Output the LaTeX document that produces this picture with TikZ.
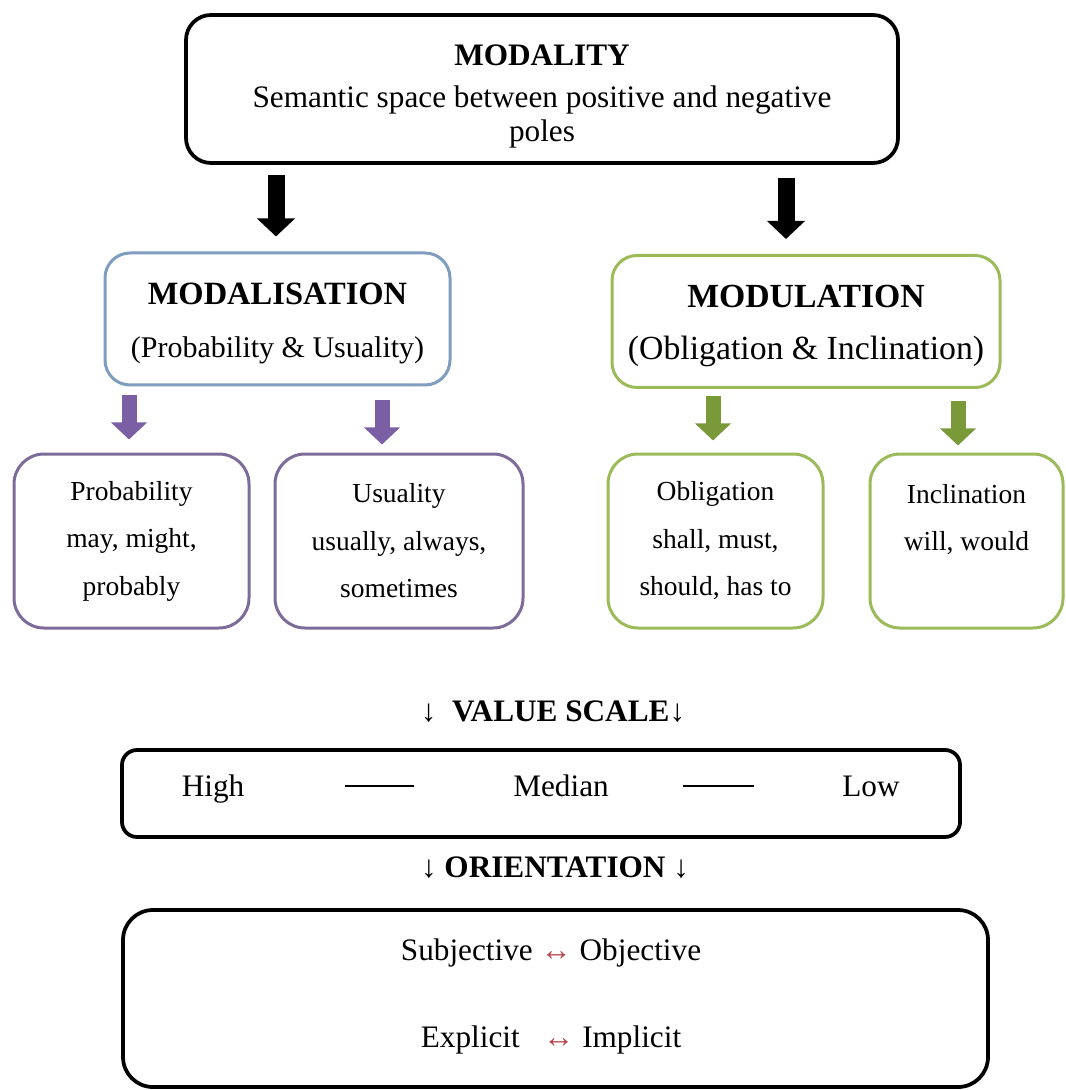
\documentclass[tikz,border=0pt]{standalone}
\usepackage{fontspec}
\setmainfont{Liberation Serif}
\usetikzlibrary{arrows.meta}
\newcommand{\pix}{0.4pt}
\definecolor{boxblue}{HTML}{7F9DBF}
\definecolor{boxgreen}{HTML}{9BBB59}
\definecolor{boxpurple}{HTML}{7D6B9A}
\definecolor{arrpurple}{HTML}{7B5FA4}
\definecolor{arrgreen}{HTML}{7A9A3A}
\definecolor{arrred}{HTML}{B5474C}
\begin{document}
\begin{tikzpicture}[x=0.4pt, y=-0.4pt,
  bigbox/.style={draw, line width=1.5pt, rounded corners=10pt, align=center, font=\fontsize{12.5}{13.5}\selectfont},
  midbox/.style={line width=1.2pt, rounded corners=10pt, align=center, minimum height=132*\pix},
  smallbox/.style={line width=1.2pt, rounded corners=12pt, align=center, minimum height=174*\pix, font=\fontsize{11}{19}\selectfont},
  scaletext/.style={inner sep=0pt, text height=10pt, text depth=1.5pt, font=\fontsize{12.5}{14}\selectfont},
  bigarrow/.style={line width=6.8pt, {Triangle[width=14.8pt,length=7.2pt]}-},
  smallarrow/.style={line width=6pt, {Triangle[width=14pt,length=6.8pt]}-}]
\useasboundingbox (0,0) rectangle (1065,1090);

\node[bigbox, minimum width=712*\pix, minimum height=148*\pix] (Top) at (542,89)
  {\rule{0pt}{14pt}\textbf{MODALITY}\\[3.5pt]Semantic space between positive and negative\\poles};

\node[midbox, draw=boxblue, minimum width=345*\pix, font=\fontsize{13}{14}\selectfont] (Left) at (277.5,319)
  {\rule{0pt}{12pt}\textbf{MODALISATION}\\[7pt]{\fontsize{12}{14}\selectfont(Probability \& Usuality)}};
\node[midbox, draw=boxgreen, minimum width=388*\pix, font=\fontsize{13.5}{14}\selectfont] (Right) at (806,321.5)
  {\rule{0pt}{12.5pt}\textbf{MODULATION}\\[7pt](Obligation \& Inclination)};

\foreach \c/\i/\x/\w [count=\n] in
    {boxpurple/{Probability\\may, might,\\probably}/131.5/235,
     boxpurple/{Usuality\\usually, always,\\sometimes}/399/248,
     boxgreen/{Obligation\\shall, must,\\should, has to}/715.5/215,
     boxgreen/{Inclination\\will, would\\~}/966.5/193}
  \node[smallbox, draw=\c, minimum width=\w*\pix] (S\n) at (\x,541) {\i};

\foreach \n/\dx/\dy in {Left/-1.5/15, Right/-20/15}
  \draw[bigarrow] ([xshift=\dx*\pix, yshift=\dy*\pix]\n.north) -- ++(0,-61);
\foreach \n/\dx/\dy/\c in {S1/-2.5/13/arrpurple, S2/-17/8/arrpurple, S3/-2.5/12/arrgreen, S4/-8.5/7/arrgreen}
  \draw[smallarrow, draw=\c] ([xshift=\dx*\pix, yshift=\dy*\pix]\n.north) -- ++(0,-44);

\node[font=\fontsize{12.5}{14}\selectfont] (ValueTitle) at (553,712) {↓\ \ \textbf{VALUE SCALE}↓};
\node[draw, line width=1.5pt, rounded corners=6pt, minimum width=838*\pix, minimum height=87*\pix] (Value) at (541,793.5) {};
\node[scaletext] (High) at (213,786) {High};
\node[scaletext] (Median) at (561,786) {Median};
\node[scaletext] (Low) at (871,786) {Low};
\draw[line width=0.8pt, shorten <=40pt, shorten >=39.5pt] (High) -- (Median);
\draw[line width=0.8pt, shorten <=29.5pt, shorten >=35pt] (Median) -- (Low);

\node[font=\fontsize{12.5}{14}\selectfont] (OrientTitle) at (555,868) {↓ \textbf{ORIENTATION} ↓};
\node[draw, line width=1.5pt, rounded corners=12pt, minimum width=865*\pix, minimum height=177*\pix] (Orient) at (555.5,998.5) {};
\node[font=\fontsize{12.5}{14}\selectfont] (SubObj) at (551,953) {Subjective {\color{arrred}↔} Objective};
\node[font=\fontsize{12.5}{14}\selectfont] (ExpImp) at (551,1040) {Explicit\ \ \ {\color{arrred}↔} Implicit};
\end{tikzpicture}
\end{document}
